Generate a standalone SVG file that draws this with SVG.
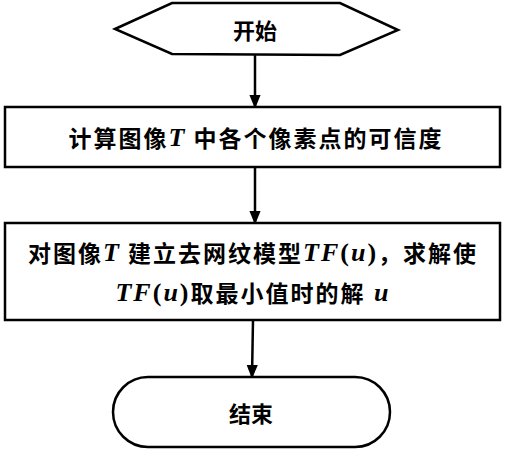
<svg xmlns="http://www.w3.org/2000/svg" width="510" height="450" viewBox="0 0 510 450">
<style>
.shape{fill:#fff;stroke:#000;stroke-width:2.5}
.t{font-family:"Noto Sans CJK SC","Liberation Sans",sans-serif;font-size:23px;font-weight:bold;fill:#000;text-anchor:middle;dominant-baseline:central}
.tn{font-family:"Noto Sans CJK SC","Liberation Sans",sans-serif;font-size:22px;font-weight:bold;fill:#000;text-anchor:middle;dominant-baseline:central}
.m{font-family:"Liberation Serif",serif;font-style:italic;font-weight:bold;font-size:26px}
.p{font-family:"Liberation Serif",serif;font-weight:bold;font-size:26px}
.c{fill:none;stroke:#000;stroke-width:2.5}
</style>
<defs>
<marker id="ah" markerWidth="14" markerHeight="16" refX="14" refY="6.5" orient="auto" markerUnits="userSpaceOnUse" viewBox="0 0 16 13">
<path d="M0,0 L16,6.5 L0,13 Z" fill="#000"/>
</marker>
</defs>
<g id="connectors">
<line class="c" x1="255" y1="55" x2="255" y2="107" marker-end="url(#ah)"/>
<line class="c" x1="255" y1="167" x2="255" y2="223" marker-end="url(#ah)"/>
<line class="c" x1="253" y1="320" x2="252" y2="377" marker-end="url(#ah)"/>
</g>
<g id="start">
<polygon class="shape" points="115,29 172,3 340,3 398,30 340,55 172,54"/>
<text class="tn" x="255" y="29">开始</text>
</g>
<g id="step1">
<rect class="shape" x="5" y="107" width="495" height="60"/>
<text class="t" x="256" y="137" letter-spacing="2">计算图像<tspan class="m">T</tspan> 中各个像素点的可信度</text>
</g>
<g id="step2">
<rect class="shape" x="5" y="223" width="495" height="97"/>
<text class="t" x="253" y="252" letter-spacing="2">对图像<tspan class="m">T</tspan> 建立去网纹模型<tspan class="m">TF</tspan><tspan class="p">(</tspan><tspan class="m">u</tspan><tspan class="p">)</tspan>，求解使</text>
<text class="t" x="253" y="292" letter-spacing="2"><tspan class="m">TF</tspan><tspan class="p">(</tspan><tspan class="m">u</tspan><tspan class="p">)</tspan>取最小值时的解<tspan class="m"> u</tspan></text>
</g>
<g id="end">
<rect class="shape" x="113" y="377" width="277" height="70" rx="35" ry="35"/>
<text class="tn" x="251" y="412">结束</text>
</g>
</svg>
